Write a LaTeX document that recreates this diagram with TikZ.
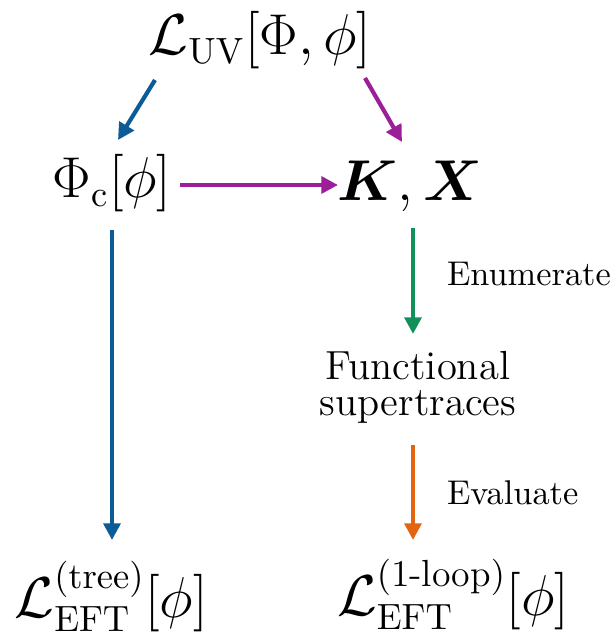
\documentclass[tikz,border=0pt]{standalone}
\usepackage{amsmath}
\usepackage{bm}
\usetikzlibrary{arrows.meta}
\definecolor{cblue}{HTML}{0B5C96}
\definecolor{cpurple}{HTML}{9B1F98}
\definecolor{cgreen}{HTML}{12905A}
\definecolor{corange}{HTML}{E4650F}
\tikzset{
  mathnode/.style={inner sep=0pt, font=\fontsize{16.2}{18}\selectfont},
  textnode/.style={inner sep=0pt, align=center, font=\fontsize{12.2}{10.8}\selectfont},
  lbl/.style={inner sep=0pt, anchor=west, text=black, font=\fontsize{10.3}{12}\selectfont},
  arr/.style={line width=1.25pt, -{Triangle[length=5pt,width=5pt]}},
}
\begin{document}
\begin{tikzpicture}[x=0.3pt,y=-0.3pt]
\useasboundingbox (0,0) rectangle (616,634);
\node[mathnode] (uv) at (260,40) {$\mathcal{L}_{\mathrm{UV}}[\Phi,\phi]$};
\node[mathnode] (phic) at (112,183) {$\Phi_{\mathrm{c}}[\phi]$};
\node[mathnode] (kx) at (410,186) {$\bm{K},\bm{X}$};
\node[textnode] (ft) at (418,387) {Functional\\supertraces};
\node[mathnode] (tree) at (111,596) {$\mathcal{L}^{(\mathrm{tree})}_{\mathrm{EFT}}[\phi]$};
\node[mathnode] (loop) at (453,594) {$\mathcal{L}^{(\text{1-loop})}_{\mathrm{EFT}}[\phi]$};
\draw[arr, cblue] ([shift={(-105,40)}]uv.center) -- ([shift={(6,-43)}]phic.center);
\draw[arr, cpurple] ([shift={(105,38)}]uv.center) -- ([shift={(-8,-44)}]kx.center);
\draw[arr, cpurple] ([shift={(68,2)}]phic.center) -- ([shift={(-72,-1)}]kx.center);
\draw[arr, cblue] ([shift={(0,47)}]phic.center) -- ([shift={(1,-56)}]tree.center);
\draw[arr, cgreen] ([shift={(3,42)}]kx.center) -- ([shift={(-5,-53)}]ft.center) node[lbl, pos=0.43, xshift=9.6pt] (en) {Enumerate};
\draw[arr, corange] ([shift={(-5,58)}]ft.center) -- ([shift={(-40,-54)}]loop.center) node[lbl, pos=0.5, xshift=9.6pt] (ev) {Evaluate};
\end{tikzpicture}
\end{document}
